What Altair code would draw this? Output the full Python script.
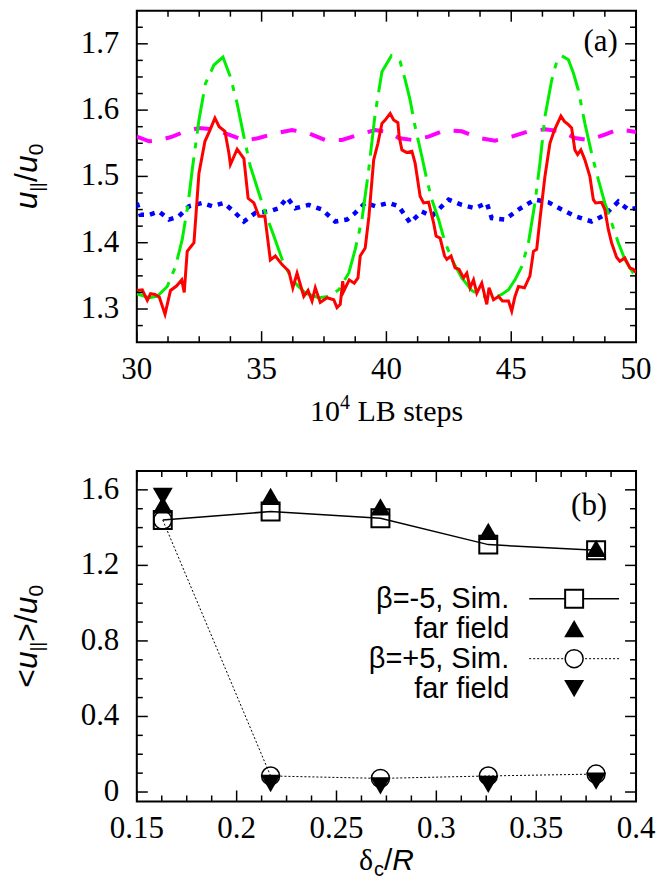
import altair as alt
import pandas as pd

# ---------------- panel (a) data: (10^4 LB steps, u_par/u_0) ----------------
red_pts = [(30.0, 1.328), (30.22, 1.329), (30.42, 1.313), (30.55, 1.323), (30.73, 1.322), (30.9, 1.318),
           (31.13, 1.292), (31.35, 1.328), (31.6, 1.335), (31.8, 1.344), (31.9, 1.325), (32.02, 1.387),
           (32.29, 1.40), (32.49, 1.505), (32.73, 1.553), (32.91, 1.568), (33.13, 1.588), (33.3, 1.575),
           (33.53, 1.568), (33.69, 1.535), (33.75, 1.518), (34.02, 1.541), (34.29, 1.527), (34.46, 1.467),
           (34.69, 1.46), (34.89, 1.44), (35.13, 1.44), (35.35, 1.374), (35.55, 1.38), (35.82, 1.367),
           (36.09, 1.357), (36.25, 1.332), (36.42, 1.354), (36.69, 1.319), (36.86, 1.328), (37.02, 1.312),
           (37.15, 1.332), (37.35, 1.31), (37.62, 1.317), (37.89, 1.314), (38.02, 1.302), (38.15, 1.307),
           (38.25, 1.342), (38.29, 1.327), (38.51, 1.344), (38.71, 1.339), (38.86, 1.347), (38.95, 1.38),
           (39.15, 1.392), (39.3, 1.44), (39.49, 1.525), (39.66, 1.55), (39.82, 1.58), (39.95, 1.585),
           (40.15, 1.595), (40.29, 1.585), (40.46, 1.581), (40.51, 1.56), (40.62, 1.54), (40.82, 1.536),
           (41.02, 1.538), (41.15, 1.52), (41.35, 1.47), (41.49, 1.46), (41.69, 1.461), (41.89, 1.43),
           (41.99, 1.41), (42.15, 1.407), (42.33, 1.38), (42.42, 1.375), (42.59, 1.38), (42.75, 1.362),
           (42.91, 1.36), (43.09, 1.347), (43.22, 1.354), (43.35, 1.332), (43.49, 1.344), (43.62, 1.324),
           (43.82, 1.339), (44.02, 1.307), (44.11, 1.332), (44.29, 1.314), (44.49, 1.319), (44.65, 1.312),
           (44.89, 1.312), (45.02, 1.297), (45.15, 1.319), (45.29, 1.334), (45.53, 1.332), (45.75, 1.35),
           (45.89, 1.387), (46.02, 1.39), (46.15, 1.435), (46.35, 1.50), (46.55, 1.55), (46.73, 1.57),
           (46.99, 1.591), (47.13, 1.583), (47.29, 1.578), (47.42, 1.573), (47.55, 1.54), (47.66, 1.533),
           (47.79, 1.54), (47.95, 1.525), (48.15, 1.50), (48.29, 1.465), (48.38, 1.46), (48.62, 1.461),
           (48.75, 1.45), (48.89, 1.42), (49.02, 1.40), (49.22, 1.378), (49.35, 1.372), (49.55, 1.377),
           (49.75, 1.362), (49.89, 1.36), (50.0, 1.355)]

green_pts = [(30.0, 1.323), (30.49, 1.317), (30.82, 1.319), (31.22, 1.334), (31.55, 1.364), (31.82, 1.405),
             (32.06, 1.46), (32.22, 1.51), (32.49, 1.585), (32.75, 1.64), (33.09, 1.668), (33.45, 1.68),
             (33.75, 1.65), (34.02, 1.61), (34.29, 1.56), (34.55, 1.515), (34.89, 1.475), (35.15, 1.445),
             (35.49, 1.41), (35.82, 1.375), (36.22, 1.344), (36.75, 1.324), (37.29, 1.317), (37.69, 1.319),
             (38.09, 1.329), (38.49, 1.354), (38.75, 1.39), (39.02, 1.435), (39.29, 1.51), (39.55, 1.595),
             (39.82, 1.658), (40.2, 1.682), (40.55, 1.673), (40.75, 1.646), (40.95, 1.615), (41.15, 1.575),
             (41.42, 1.53), (41.62, 1.495), (41.82, 1.465), (42.09, 1.435), (42.35, 1.40), (42.69, 1.37),
             (43.02, 1.347), (43.42, 1.328), (43.82, 1.319), (44.29, 1.317), (44.62, 1.322), (44.89, 1.329),
             (45.15, 1.344), (45.42, 1.364), (45.69, 1.40), (45.95, 1.46), (46.15, 1.52), (46.35, 1.59),
             (46.62, 1.645), (46.82, 1.673), (47.02, 1.682), (47.29, 1.676), (47.49, 1.656), (47.69, 1.63),
             (47.95, 1.58), (48.22, 1.535), (48.49, 1.495), (48.75, 1.46), (49.02, 1.43), (49.29, 1.40),
             (49.55, 1.375), (49.89, 1.354), (50.0, 1.348)]

magenta_pts = [(30.0, 1.56), (30.49, 1.553), (30.95, 1.555), (31.42, 1.56), (31.95, 1.568), (32.49, 1.573),
               (33.09, 1.571), (33.69, 1.563), (34.35, 1.554), (34.89, 1.558), (35.55, 1.565), (36.22, 1.57),
               (36.89, 1.565), (37.55, 1.555), (38.22, 1.555), (38.89, 1.563), (39.55, 1.57), (40.09, 1.567),
               (40.49, 1.558), (41.02, 1.555), (41.69, 1.56), (42.35, 1.57), (43.02, 1.568), (43.69, 1.558),
               (44.35, 1.554), (45.02, 1.56), (45.69, 1.568), (46.35, 1.571), (47.02, 1.568), (47.55, 1.558),
               (48.09, 1.555), (48.75, 1.563), (49.29, 1.571), (50.0, 1.567)]

blue_pts = [(30.0, 1.46), (30.15, 1.442), (30.49, 1.442), (30.89, 1.447), (31.29, 1.435), (31.69, 1.44),
            (32.09, 1.455), (32.62, 1.46), (33.02, 1.455), (33.49, 1.46), (33.89, 1.447), (34.29, 1.432),
            (34.75, 1.445), (35.29, 1.447), (35.69, 1.452), (36.02, 1.468), (36.35, 1.452), (36.89, 1.457),
            (37.42, 1.45), (37.95, 1.432), (38.42, 1.435), (38.75, 1.445), (39.15, 1.46), (39.55, 1.455),
            (40.09, 1.46), (40.49, 1.455), (40.95, 1.43), (41.42, 1.447), (41.82, 1.44), (42.49, 1.465),
            (43.02, 1.457), (43.55, 1.452), (44.02, 1.46), (44.22, 1.437), (44.75, 1.435), (45.29, 1.45),
            (45.95, 1.465), (46.49, 1.461), (47.02, 1.45), (47.55, 1.44), (48.22, 1.432), (48.75, 1.442),
            (49.29, 1.462), (49.69, 1.45), (50.0, 1.452)]

# ---------------- panel (b) data ----------------
delta_R = [0.163, 0.217, 0.272, 0.326, 0.380]
sim_beta_m5 = [1.44, 1.485, 1.45, 1.31, 1.28]
far_beta_m5 = [1.52, 1.565, 1.51, 1.38, 1.29]
sim_beta_p5 = [1.44, 0.085, 0.072, 0.085, 0.095]
far_beta_p5 = [1.565, 0.045, 0.032, 0.041, 0.058]
legend_labels = ["β=-5, Sim.", "far field", "β=+5, Sim.", "far field"]

# ---------------- ticks and tick labels ----------------
a_x_major = [30, 35, 40, 45, 50]
a_x_labels = ["30", "35", "40", "45", "50"]
a_x_minor = [31.25, 32.5, 33.75, 36.25, 37.5, 38.75, 41.25, 42.5, 43.75, 46.25, 47.5, 48.75]
a_y_major = [1.3, 1.4, 1.5, 1.6, 1.7]
a_y_labels = ["1.3", "1.4", "1.5", "1.6", "1.7"]
a_y_minor = [1.275, 1.325, 1.35, 1.375, 1.425, 1.45, 1.475, 1.525, 1.55, 1.575, 1.625, 1.65, 1.675, 1.725]
b_x_major = [0.15, 0.2, 0.25, 0.3, 0.35, 0.4]
b_x_labels = ["0.15", "0.2", "0.25", "0.3", "0.35", "0.4"]
b_x_minor = [0.1625, 0.175, 0.1875, 0.2125, 0.225, 0.2375, 0.2625, 0.275, 0.2875,
             0.3125, 0.325, 0.3375, 0.3625, 0.375, 0.3875]
b_y_major = [0, 0.4, 0.8, 1.2, 1.6]
b_y_labels = ["0", "0.4", "0.8", "1.2", "1.6"]
b_y_minor = [0.1, 0.2, 0.3, 0.5, 0.6, 0.7, 0.9, 1.0, 1.1, 1.3, 1.4, 1.5]

W = 500
HA = 332
HB = 331
SERIF = "Liberation Serif"
SANS = "Liberation Sans"
LABEL_SIZE = 31

xa = alt.Scale(domain=[30, 50], nice=False, zero=False)
ya = alt.Scale(domain=[1.25, 1.75], nice=False, zero=False)
xb = alt.Scale(domain=[0.15, 0.4], nice=False, zero=False)
yb = alt.Scale(domain=[-0.05, 1.7], nice=False, zero=False)


def one():
    return pd.DataFrame({"k": [0]})


def text(txt, x, y, size, font, style="normal", dx=0, dy=0, angle=0, align="left", baseline="alphabetic"):
    return alt.Chart(one()).mark_text(
        text=txt, font=font, fontSize=size, fontStyle=style, dx=dx, dy=dy, angle=angle,
        align=align, baseline=baseline, color="black"
    ).encode(x=alt.value(x), y=alt.value(y))


def frame_layers(xmaj, xlab, xmin, ymaj, ylab, ymin, xs, ys, h):
    out = []
    for vals, L in ((xmaj, 11), (xmin, 6)):
        df = pd.DataFrame({"v": vals})
        out.append(alt.Chart(df).mark_rule(color="black", strokeWidth=1.5).encode(
            x=alt.X("v:Q", scale=xs, axis=None), y=alt.value(h), y2=alt.value(h - L)))
        out.append(alt.Chart(df).mark_rule(color="black", strokeWidth=1.5).encode(
            x=alt.X("v:Q", scale=xs, axis=None), y=alt.value(0), y2=alt.value(L)))
    for vals, L in ((ymaj, 11), (ymin, 6)):
        df = pd.DataFrame({"v": vals})
        out.append(alt.Chart(df).mark_rule(color="black", strokeWidth=1.5).encode(
            y=alt.Y("v:Q", scale=ys, axis=None), x=alt.value(0), x2=alt.value(L)))
        out.append(alt.Chart(df).mark_rule(color="black", strokeWidth=1.5).encode(
            y=alt.Y("v:Q", scale=ys, axis=None), x=alt.value(W), x2=alt.value(W - L)))
    # tick labels
    out.append(alt.Chart(pd.DataFrame({"v": xmaj, "lab": xlab})).mark_text(
        font=SERIF, fontSize=LABEL_SIZE, align="center", baseline="middle", color="black"
    ).encode(x=alt.X("v:Q", scale=xs, axis=None), y=alt.value(h + 28), text="lab:N"))
    out.append(alt.Chart(pd.DataFrame({"v": ymaj, "lab": ylab})).mark_text(
        font=SERIF, fontSize=LABEL_SIZE, align="right", baseline="middle", color="black"
    ).encode(y=alt.Y("v:Q", scale=ys, axis=None), x=alt.value(-17.5), text="lab:N"))
    return out


def curve(pts, color, width, dash=None):
    kw = dict(color=color, strokeWidth=width, clip=True)
    if dash:
        kw["strokeDash"] = dash
    df = pd.DataFrame(pts, columns=["x", "y"])
    return alt.Chart(df).mark_line(**kw).encode(
        x=alt.X("x:Q", scale=xa, axis=None), y=alt.Y("y:Q", scale=ya, axis=None))


# ---------------- panel (a) ----------------
a_layers = [
    curve(magenta_pts, "#ff00ff", 4, [16, 14]),
    curve(blue_pts, "#0000ff", 4.5, [5, 6]),
    curve(green_pts, "#00ee00", 3, [40, 9, 6, 9]),
    curve(red_pts, "#ff0000", 3),
]
a_layers += frame_layers(a_x_major, a_x_labels, a_x_minor, a_y_major, a_y_labels, a_y_minor, xa, ya, HA)
a_layers.append(text("(a)", 464.5, 31.7, 31, SERIF, align="center", baseline="middle"))
# y title  u_||/u_0
yt_x, yt_y = -99.5, 199
for t, s, f, st, dx, dy in [("u", 32, SANS, "italic", 0, 0), ("||", 18, SANS, "normal", 17.8, 6),
                             ("/", 32, SANS, "normal", 27.5, 0), ("u", 32, SANS, "italic", 36.4, 0),
                             ("0", 21, SANS, "normal", 54.2, 6)]:
    a_layers.append(text(t, yt_x, yt_y, s, f, st, dx=dx, dy=dy, angle=270))
# x title 10^4 LB steps
xt_x, xt_y = 173.5, 410.7
for t, s, dx, dy in [("10", 30, 0, 0), ("4", 20, 30, -12), ("LB steps", 30, 47.5, 0)]:
    a_layers.append(text(t, xt_x, xt_y, s, SERIF, dx=dx, dy=dy))
panel_a = alt.layer(*a_layers).properties(width=W, height=HA)

# ---------------- panel (b) ----------------
bdf = pd.DataFrame({"d": delta_R, "sm": sim_beta_m5, "fm": far_beta_m5, "sp": sim_beta_p5, "fp": far_beta_p5})
bx = alt.X("d:Q", scale=xb, axis=None)


def by(field):
    return alt.Y(field + ":Q", scale=yb, axis=None)


b_layers = [
    alt.Chart(bdf).mark_line(color="black", strokeWidth=1.5).encode(x=bx, y=by("sm")),
    alt.Chart(bdf).mark_point(shape="square", filled=False, size=324, strokeWidth=2, color="black",
                              opacity=1).encode(x=bx, y=by("sm")),
    alt.Chart(bdf).mark_point(shape="triangle-up", filled=True, size=400, color="black",
                              opacity=1).encode(x=bx, y=by("fm")),
    alt.Chart(bdf).mark_line(color="black", strokeWidth=1, strokeDash=[2, 2]).encode(x=bx, y=by("sp")),
    alt.Chart(bdf).mark_point(shape="circle", filled=False, size=324, strokeWidth=1.5, color="black",
                              opacity=1).encode(x=bx, y=by("sp")),
    alt.Chart(bdf).mark_point(shape="triangle-down", filled=True, size=400, color="black",
                              opacity=1).encode(x=bx, y=by("fp")),
]
b_layers += frame_layers(b_x_major, b_x_labels, b_x_minor, b_y_major, b_y_labels, b_y_minor, xb, yb, HB)
b_layers.append(text("(b)", 453, 35, 31, SERIF, align="center", baseline="middle"))

# legend
rows_y = [128, 158, 188, 218]
for lab, ry in zip(legend_labels, rows_y):
    b_layers.append(text(lab, 373, ry, 29, SANS, align="right", baseline="middle"))
b_layers.append(alt.Chart(one()).mark_rule(color="black", strokeWidth=1.5).encode(
    x=alt.value(393), x2=alt.value(483), y=alt.value(rows_y[0])))
b_layers.append(alt.Chart(one()).mark_rule(color="black", strokeWidth=1, strokeDash=[2, 2]).encode(
    x=alt.value(393), x2=alt.value(483), y=alt.value(rows_y[2])))
for shp, fill, sz, ry in [("square", False, 324, rows_y[0]), ("triangle-up", True, 400, rows_y[1]),
                          ("circle", False, 324, rows_y[2]), ("triangle-down", True, 400, rows_y[3])]:
    kw = dict(shape=shp, filled=fill, size=sz, color="black", opacity=1)
    if not fill:
        kw["strokeWidth"] = 2 if shp == "square" else 1.5
        kw["fill"] = "white"
    b_layers.append(alt.Chart(one()).mark_point(**kw).encode(x=alt.value(438), y=alt.value(ry)))

# y title <u_||>/u_0
ybt_x, ybt_y = -99.5, 217
for t, s, st, dx, dy in [("<", 32, "normal", 0, 0), ("u", 32, "italic", 18.7, 0), ("||", 18, "normal", 36.5, 6),
                         (">", 32, "normal", 45.9, 0), ("/", 32, "normal", 64.6, 0), ("u", 32, "italic", 73.5, 0),
                         ("0", 21, "normal", 91.3, 6)]:
    b_layers.append(text(t, ybt_x, ybt_y, s, SANS, st, dx=dx, dy=dy, angle=270))
# x title delta_c / R
xbt_x, xbt_y = 222.5, 400
for t, s, f, st, dx, dy in [("δ", 30, SERIF, "normal", 0, 0), ("c", 20, SANS, "normal", 15, 6),
                             ("/", 30, SANS, "normal", 25, 0), ("R", 30, SANS, "italic", 33.3, 0)]:
    b_layers.append(text(t, xbt_x, xbt_y, s, f, st, dx=dx, dy=dy))
panel_b = alt.layer(*b_layers).properties(width=W, height=HB)

chart = alt.vconcat(panel_a, panel_b, spacing=41).properties(
    padding={"left": 2, "top": 0, "right": 5, "bottom": 5}
).configure_view(stroke="black", strokeWidth=2)

chart.save("out.html", embed_options={"renderer": "svg", "actions": False})
